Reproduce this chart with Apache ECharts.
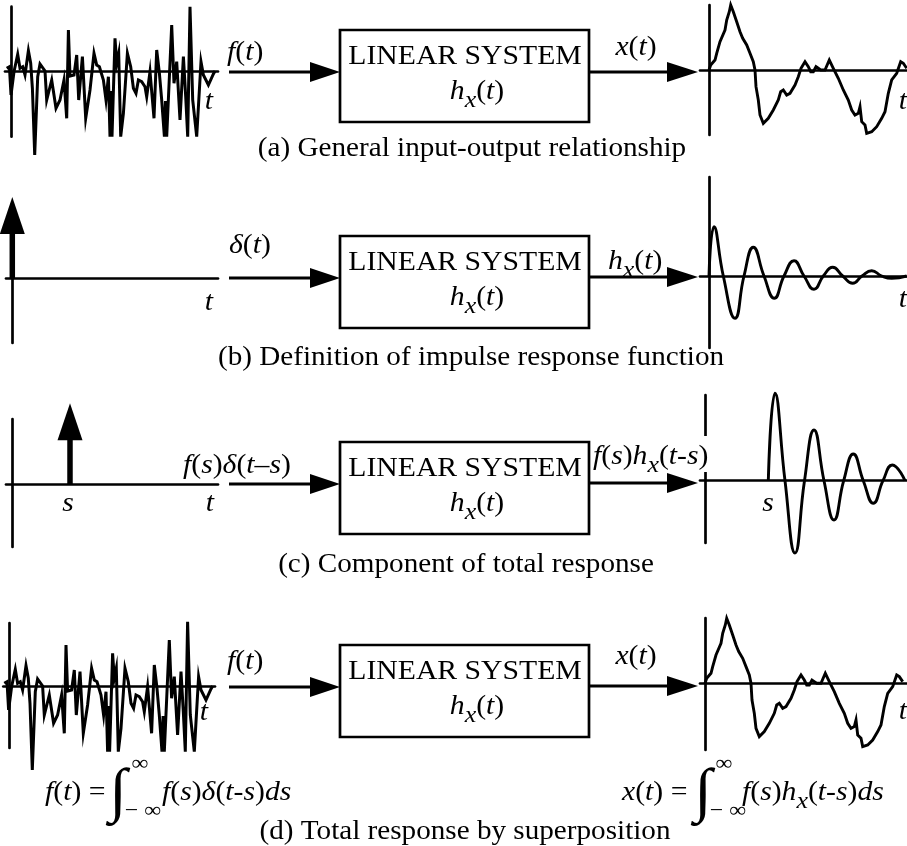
<!DOCTYPE html>
<html><head><meta charset="utf-8">
<script src="https://cdn.jsdelivr.net/npm/echarts@6/dist/echarts.min.js"></script>
<style>html,body{margin:0;padding:0;background:#fff}#c{width:907px;height:846px}</style>
</head><body><div id="c"></div>
<script>
// ---- data (t, amplitude) ----
const noiseSignal = [[-5,2.7],[-2.3,4.3],[-0.7,-24],[2.3,-0.7],[6,16.7],[8.3,2.7],[11,4.3],[13.3,-4],[16.7,20.3],[19,7.7],[20.7,-17.3],[23,-84],[26,-5.7],[28.3,7],[33.3,0],[35,-29],[40,-9],[44.3,-37.3],[48.3,-29],[52.3,-9],[55,-47.3],[56.7,41],[58.3,-5],[62.3,-4],[65,16],[67,-29],[70.7,14.3],[74,-47.3],[78.3,-19],[82.3,17.7],[85,6],[87.7,4.3],[91.7,-9],[94.3,-29],[96.7,-5.7],[98.3,-65.7],[99.3,-20],[100.3,-65.7],[103.3,32.7],[105,7.7],[107,17.7],[109,-65.7],[111.7,-42.3],[115.7,17.7],[119,4.3],[121.7,-17.3],[124.3,-22.3],[126.7,-9],[130,-10.7],[133.3,-15.7],[135,-25.7],[138.3,-0.7],[142.3,-47.3],[145,21],[147.7,-2.3],[150,-29],[152.7,-65.7],[153.8,-30],[155,-65.7],[160,46],[162.3,-12.3],[165,9.3],[168.3,-49],[171.7,14.3],[174,-25.7],[176,-65.7],[178.3,64.3],[181,-29],[185,-65.7],[189.3,9.3],[191.7,-4],[196.7,-14],[201.7,-3],[203.3,0]];
const responseSignal = [[0,0],[1.7,5],[6,10],[7.7,16.7],[11,28.3],[16,40],[17.7,50],[20.3,58.3],[21.7,65],[24.3,58.3],[27.7,48.3],[31,38.3],[33.7,31.7],[37.7,25],[41,16.7],[44.3,8.3],[46,0],[47,-16.7],[49.3,-30],[51,-45],[54.3,-53.3],[59.3,-48.3],[64.3,-40],[69.3,-30],[71.7,-21.7],[74.3,-20],[77.7,-25],[81,-23.3],[86,-15],[89.3,-6.7],[92,1.7],[96,8.3],[99.3,3.3],[101.7,-1.7],[104.3,-1.7],[107,3.3],[109.3,1.7],[111.7,0],[116,0],[120.3,10],[124.3,1.7],[129.3,-8.3],[134.3,-20],[139.3,-30],[142.7,-40],[146,-45],[149.3,-43.3],[151,-36.7],[152.7,-51.7],[156,-55],[157.7,-63.3],[162.7,-61.7],[167.7,-56.7],[172.7,-48.3],[176,-41.7],[179.3,-23.3],[182.7,-10],[187.7,-3.3],[191.7,8.3],[194.3,6.7],[197.7,1.7]];
const impulseResponse = [[0,0],[5,49.3],[14.3,0],[26,-42.3],[35,0],[44.3,28.7],[55,0],[65.3,-22.3],[75,0],[85,15.3],[95,0],[105,-13.3],[114.3,0],[123.7,8.7],[133.7,0],[143.7,-7.3],[153,0],[162.7,5.3],[172.7,0],[182.7,-2.3],[197.7,0]];
const shiftedResponse = [[62.6,0],[69.3,87.4],[79.3,0],[89.3,-72.3],[98.8,0],[108.3,50.7],[118.3,0],[128.3,-39.3],[138,0],[147.6,26.7],[157.6,0],[167.6,-22.6],[177.3,0],[186.6,15.7],[199.3,0]];
const impulseTimes = [0, 57.7];     // (b) at t=0, (c) at t=s
const impulseHeights = [81, 81];

const captions = ['(a) General input-output relationship','(b) Definition of impulse response function','(c) Component of total response','(d) Total response by superposition'];

// ---- layout ----
const grids = [
  {left:5, top:6.7, width:213, height:130, x:[-6.7,206.3], y:[-65.7,64.3]},
  {left:700, top:5, width:207, height:130, x:[-9,198], y:[-65,65]},
  {left:6, top:213, width:212, height:130, x:[-6.3,205.7], y:[-65,65]},
  {left:700, top:177, width:207, height:171, x:[-9,198], y:[-72,99]},
  {left:6, top:419, width:212, height:128, x:[-6.3,205.7], y:[-62.7,65.3]},
  {left:700, top:395, width:207, height:148, x:[-5.7,201.3], y:[-62.3,85.7]},
  {left:3.3, top:623, width:211.7, height:125, x:[-6,205.7], y:[-62,63]},
  {left:700, top:618, width:207, height:132, x:[-5,202], y:[-66.7,65.3]}
];
const LW = 2.7;
const axisBase = (i, r) => ({type:'value', gridIndex:i, min:r[0], max:r[1],
  axisLine:{show:true, onZero:true, lineStyle:{color:'#000', width:LW}},
  axisTick:{show:false}, axisLabel:{show:false}, splitLine:{show:false}});

function lineSeries(i, data, smooth, w){
  return {type:'line', xAxisIndex:i, yAxisIndex:i, data, symbol:'none', clip:false,
    smooth: smooth || false, silent:true, animation:false,
    lineStyle:{color:'#000', width:w || 2.9, join:'miter', opacity:1}};
}
function impulse(i, k){
  const t = impulseTimes[k], h = impulseHeights[k];
  return [
    {type:'line', xAxisIndex:i, yAxisIndex:i, data:[[t,0],[t,h-30]], symbol:'none', clip:false, silent:true, animation:false,
      lineStyle:{color:'#000', width:5.5, cap:'butt', opacity:1}},
    {type:'scatter', xAxisIndex:i, yAxisIndex:i, data:[[t,h]], symbol:'triangle', symbolSize:[25,37], symbolOffset:[0,'50%'],
      clip:false, silent:true, animation:false, itemStyle:{color:'#000', opacity:1}}
  ];
}

const series = [
  lineSeries(0, noiseSignal, false, 3),
  lineSeries(1, responseSignal),
  ...impulse(2, 0),
  lineSeries(3, impulseResponse, 0.5),
  ...impulse(4, 1),
  lineSeries(5, shiftedResponse, 0.5),
  lineSeries(6, noiseSignal, false, 3),
  lineSeries(7, responseSignal)
];

// ---- text helpers ----
const SX = 1.08, FONT = 'Liberation Serif';
function richStyles(size){
  const sub = Math.round(size*0.88);
  return {
    n:{fontFamily:FONT, fontSize:size, fill:'#000'},
    i:{fontFamily:FONT, fontSize:size, fontStyle:'italic', fill:'#000'},
    sub:{fontFamily:FONT, fontSize:sub, fontStyle:'italic', fill:'#000', padding:[Math.round(sub*0.7),0,0,0]}
  };
}
function label(x, y, text, size, align, extra){
  align = align || 'center';
  return {type:'text', x, y, scaleX:SX, z:10, silent:true,
    style:Object.assign({text, rich:richStyles(size), fontFamily:FONT, fontSize:size, fill:'#000',
      align, verticalAlign:'middle', textAlign:align, textVerticalAlign:'middle'}, extra||{})};
}
const G = [];
const rowBox = [30, 236, 442, 645];
const rowArrowIn = [72, 278, 484, 687];
const rowArrowOut = [72, 277, 483, 686];
for (let r = 0; r < 4; r++){
  const top = rowBox[r];
  G.push({type:'rect', shape:{x:340, y:top, width:249, height:92}, style:{fill:'none', stroke:'#000', lineWidth:2.7}});
  G.push(label(465, top+26.5, '{n|LINEAR SYSTEM}', 27.5));
  G.push(label(477, top+62, '{i|h}{sub|x}{n|(}{i|t}{n|)}', 27.5));
  const yi = rowArrowIn[r], yo = rowArrowOut[r];
  G.push({type:'line', shape:{x1:229, y1:yi, x2:313, y2:yi}, style:{stroke:'#000', lineWidth:3}});
  G.push({type:'polygon', shape:{points:[[310,yi-10],[340,yi],[310,yi+10]]}, style:{fill:'#000'}});
  G.push({type:'line', shape:{x1:589, y1:yo, x2:670, y2:yo}, style:{stroke:'#000', lineWidth:3}});
  G.push({type:'polygon', shape:{points:[[667,yo-10],[698,yo],[667,yo+10]]}, style:{fill:'#000'}});
}
const LS = 27.5;
// gap in the (c) output axis behind its label
G.push({type:'rect', z:5, silent:true, shape:{x:700, y:436, width:12, height:36}, style:{fill:'#fff'}});
// signal labels
G.push(label(227, 53, '{i|f}{n|(}{i|t}{n|)}', LS, 'left'));
G.push(label(636, 48, '{i|x}{n|(}{i|t}{n|)}', LS));
G.push(label(229, 246, '{i|δ}{n|(}{i|t}{n|)}', LS, 'left'));
G.push(label(608, 262, '{i|h}{sub|x}{n|(}{i|t}{n|)}', LS, 'left'));
G.push(label(183, 466, '{i|f}{n|(}{i|s}{n|)}{i|δ}{n|(}{i|t}{n|–}{i|s}{n|)}', LS, 'left'));
G.push(label(593, 457, '{i|f}{n|(}{i|s}{n|)}{i|h}{sub|x}{n|(}{i|t}{n|-}{i|s}{n|)}', LS, 'left'));
G.push(label(227, 662, '{i|f}{n|(}{i|t}{n|)}', LS, 'left'));
G.push(label(636, 657, '{i|x}{n|(}{i|t}{n|)}', LS));
// axis letters
[[209,102,'t'],[903,102,'t'],[209,303,'t'],[903,300,'t'],[68,504,'s'],[210,504,'t'],[768,504,'s'],[204,713,'t'],[903,712,'t']]
  .forEach(a => G.push(label(a[0], a[1], '{i|'+a[2]+'}', LS)));
// captions
const capPos = [[472,149],[471,358],[466,565],[465,832]];
captions.forEach((c, k) => G.push(label(capPos[k][0], capPos[k][1], '{n|'+c+'}', 27)));
// formulas
G.push(label(45, 793, '{i|f}{n|(}{i|t}{n|) =}', LS, 'left'));
G.push(label(118, 794, '{n|∫}', 60));
G.push(label(140, 764, '{n|∞}', 22));
G.push(label(143, 811, '{n|− ∞}', 22));
G.push(label(162, 793, '{i|f}{n|(}{i|s}{n|)}{i|δ}{n|(}{i|t}{n|-}{i|s}{n|)}{i|ds}', LS, 'left'));
G.push(label(622, 793, '{i|x}{n|(}{i|t}{n|) =}', LS, 'left'));
G.push(label(703, 794, '{n|∫}', 60));
G.push(label(724, 764, '{n|∞}', 22));
G.push(label(728, 811, '{n|− ∞}', 22));
G.push(label(742, 793, '{i|f}{n|(}{i|s}{n|)}{i|h}{sub|x}{n|(}{i|t}{n|-}{i|s}{n|)}{i|ds}', LS, 'left'));

const chart = echarts.init(document.getElementById('c'), null, {renderer:'canvas'});
chart.setOption({
  animation:false,
  backgroundColor:'#fff',
  grid: grids.map(g => ({left:g.left, top:g.top, width:g.width, height:g.height, containLabel:false})),
  xAxis: grids.map((g,i) => axisBase(i, g.x)),
  yAxis: grids.map((g,i) => axisBase(i, g.y)),
  series,
  graphic: G
});
</script></body></html>
